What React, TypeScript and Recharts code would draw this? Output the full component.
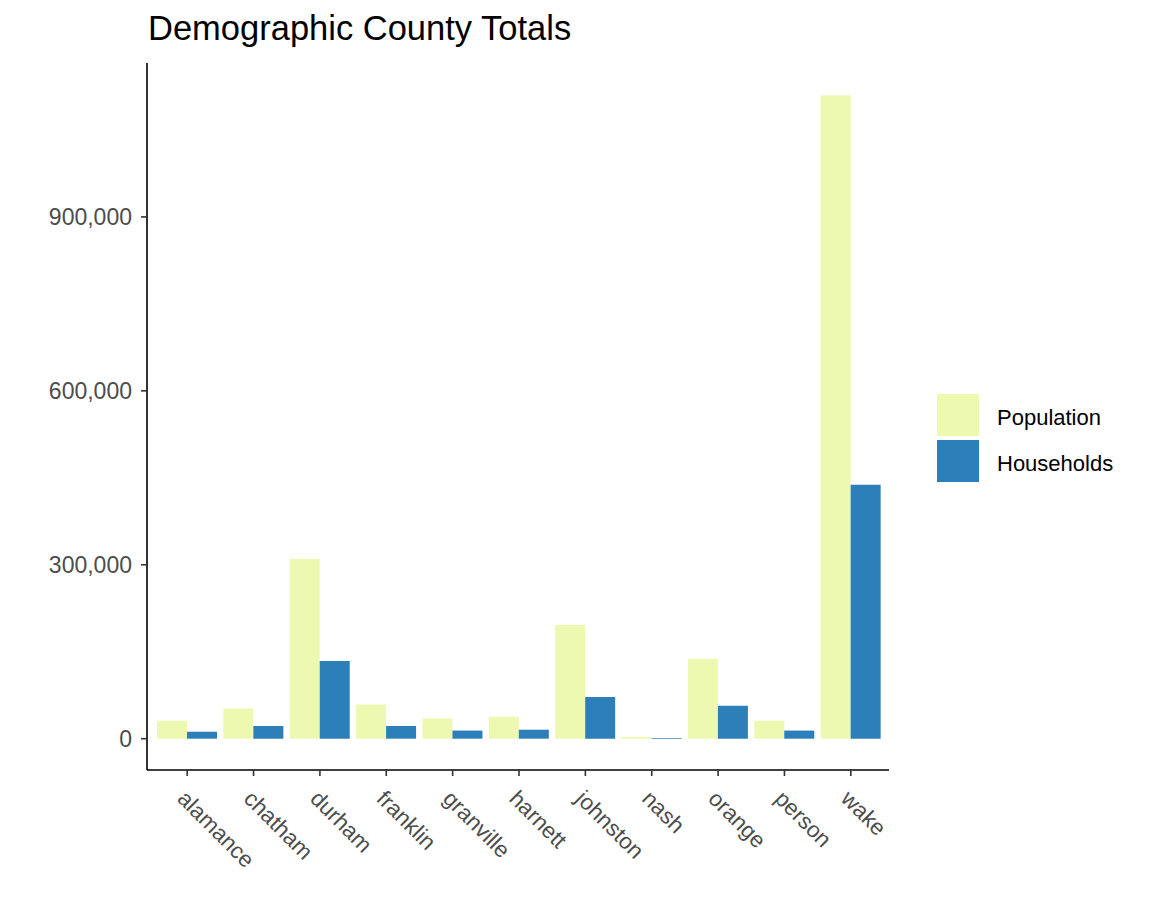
import { BarChart, Bar, XAxis, YAxis, Legend } from "recharts";

const counties = ["alamance", "chatham", "durham", "franklin", "granville", "harnett", "johnston", "nash", "orange", "person", "wake"];
const population = [31000, 52000, 310000, 59000, 35000, 38000, 196000, 3000, 138000, 31000, 1110000];
const households = [12000, 22000, 134000, 22000, 14000, 15500, 72000, 1200, 57000, 14000, 438000];
const yTicks = [0, 300000, 600000, 900000];

const seriesColors = { population: "#EDF8B1", households: "#2C7FB8" };
const font = "'Liberation Sans', Arial, sans-serif";

const data = counties.map((county, i) => ({
  county,
  population: population[i],
  households: households[i],
}));

const XTick = ({ x, y, payload }: { x?: number; y?: number; payload?: { value: string } }) => (
  <text
    transform={`translate(${(x ?? 0) - 11},${(y ?? 0) + 22}) rotate(45)`}
    textAnchor="start"
    fill="#4D4D4D"
    fontSize={22.5}
    fontFamily={font}
  >
    {payload?.value}
  </text>
);

const LegendBox = () => (
  <div style={{ fontFamily: font, fontSize: 22, color: "#000" }}>
    {[
      { label: "Population", color: seriesColors.population },
      { label: "Households", color: seriesColors.households },
    ].map((item) => (
      <div key={item.label} style={{ display: "flex", alignItems: "center", height: 46 }}>
        <div style={{ width: 42, height: 42, background: item.color, marginRight: 18 }} />
        <span style={{ position: "relative", top: 3 }}>{item.label}</span>
      </div>
    ))}
  </div>
);

export default function App() {
  return (
    <div style={{ position: "absolute", left: 0, top: 0, width: 1152, height: 921, background: "#fff" }}>
      <div
        style={{
          position: "absolute",
          left: 148,
          top: 11,
          fontFamily: font,
          fontSize: 34.5,
          lineHeight: "34px",
          color: "#000",
          whiteSpace: "nowrap",
        }}
      >
        Demographic County Totals
      </div>
      <BarChart
        width={1152}
        height={921}
        data={data}
        margin={{ top: 63, right: 263, left: 0, bottom: 0 }}
        barGap={0}
      >
        <XAxis
          dataKey="county"
          height={151}
          padding={{ left: 7, right: 5 }}
          axisLine={{ stroke: "#000", strokeWidth: 1.6 }}
          tickLine={{ stroke: "#333", strokeWidth: 1.6 }}
          tickSize={6}
          tickMargin={2}
          interval={0}
          tick={<XTick />}
        />
        <YAxis
          width={147}
          domain={[-54000, 1165500]}
          allowDataOverflow
          ticks={yTicks}
          tickFormatter={(v: number) => v.toLocaleString("en-US")}
          axisLine={{ stroke: "#000", strokeWidth: 1.6 }}
          tickLine={{ stroke: "#333", strokeWidth: 1.6 }}
          tickSize={6}
          tickMargin={9}
          tick={{ fill: "#4D4D4D", fontSize: 23, fontFamily: font }}
        />
        <Legend
          layout="horizontal"
          verticalAlign="middle"
          align="center"
          wrapperStyle={{ left: 937, top: 392, width: 200 }}
          content={<LegendBox />}
        />
        <Bar dataKey="population" name="Population" fill={seriesColors.population} barSize={30} isAnimationActive={false} />
        <Bar dataKey="households" name="Households" fill={seriesColors.households} barSize={30} isAnimationActive={false} />
      </BarChart>
    </div>
  );
}
